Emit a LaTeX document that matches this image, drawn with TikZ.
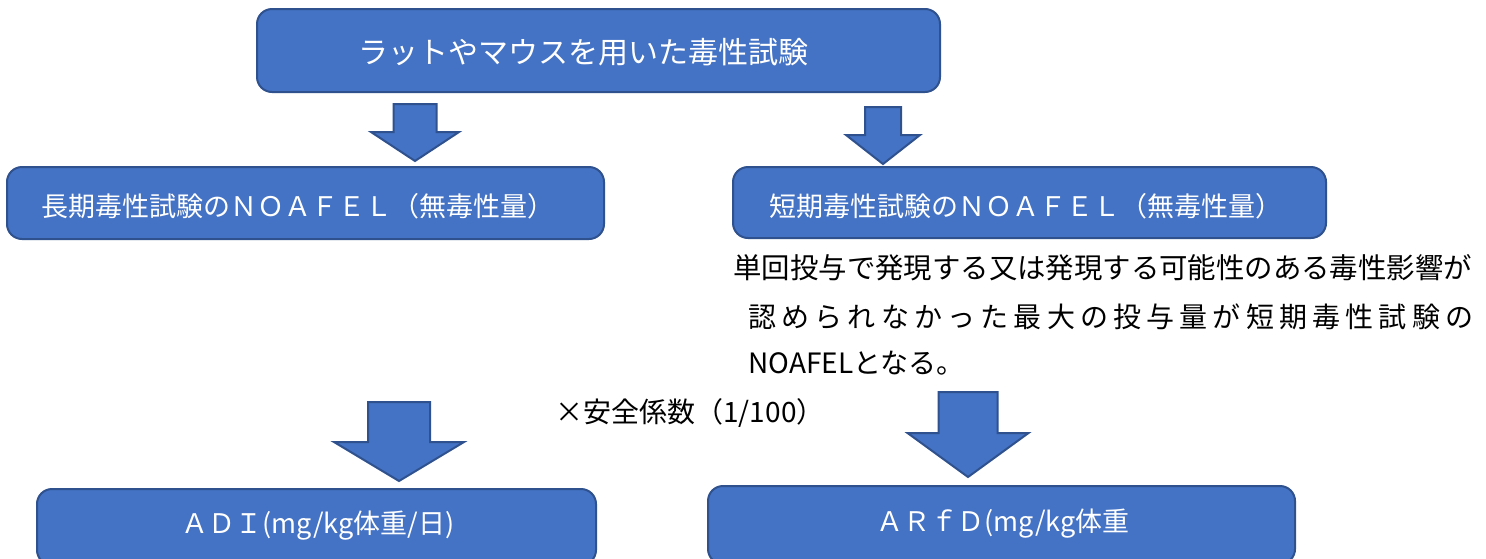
\documentclass[tikz,border=0pt]{standalone}
\usepackage{fontspec}
\setmainfont{Noto Sans CJK JP}
\definecolor{boxfill}{HTML}{4472C4}
\definecolor{boxline}{HTML}{2F528F}
\tikzset{
  bluebox/.style={draw=boxline, fill=boxfill, line width=1pt, rounded corners=7.5pt, inner sep=0pt},
  boxtext/.style={text=white, font=\fontsize{13.5pt}{16pt}\selectfont, inner sep=0pt},
  toptext/.style={text=white, font=\fontsize{15pt}{18pt}\selectfont, inner sep=0pt},
  plaintext/.style={text=black, font=\fontsize{14pt}{16pt}\selectfont, inner sep=0pt, anchor=west},
  blockarrow/.style={draw=boxline, fill=boxfill, line width=1pt, line join=miter}
}
\newcommand\blockarr[6]{%
  \draw[blockarrow] ({#1-#2},#3) -- ({#1+#2},#3) -- ({#1+#2},#4) -- ({#1+#5},#4)
    -- (#1,#6) -- ({#1-#5},#4) -- ({#1-#2},#4) -- cycle;}
\begin{document}
\begin{tikzpicture}[x=0.5pt,y=-0.5pt]
\clip (0,0) rectangle (1486,558);
\fill[white] (0,0) rectangle (1486,558);
% boxes
\node[bluebox, minimum width=341.5pt, minimum height=41.5pt] (top) at (598.5,50.5) {};
\node[toptext] (toptxt) at (583,52) {ラットやマウスを用いた毒性試験};
\node[bluebox, minimum width=298.5pt, minimum height=36pt] (long) at (305.5,203) {};
\node[boxtext] (longtxt) at (298,206) {長期毒性試験のＮＯＡＦＥＬ（無毒性量）};
\node[bluebox, minimum width=296.5pt, minimum height=35.5pt] (short) at (1029.5,202.5) {};
\node[boxtext] (shorttxt) at (1026,206) {短期毒性試験のＮＯＡＦＥＬ（無毒性量）};
\node[bluebox, minimum width=279.5pt, minimum height=38pt] (adi) at (316.5,527) {};
\node[boxtext] (aditxt) at (318,526) {ＡＤＩ(mg/kg体重/日)};
\node[bluebox, minimum width=293.5pt, minimum height=39pt] (arfd) at (1001.5,525) {};
\node[boxtext] (arfdtxt) at (1003,524) {ＡＲｆＤ(mg/kg体重};
% arrows
\blockarr{415}{21.5}{104}{132}{44}{161}
\blockarr{883}{18}{107}{135}{37}{164}
\blockarr{399}{31}{402}{442}{65}{481}
\blockarr{968}{29.5}{392}{433}{60.5}{477}
% texts
\node[plaintext, font=\fontsize{14.2pt}{16pt}\selectfont] (para1) at (733,268) {単回投与で発現する又は発現する可能性のある毒性影響が};
\node[plaintext, font=\fontsize{14pt}{16pt}\selectfont\addfontfeature{LetterSpace=18.5}] (para2) at (748,317) {認められなかった最大の投与量が短期毒性試験の};
\node[plaintext] (para3) at (748,363) {NOAFELとなる。};
\node[plaintext] (safety) at (555,413) {×安全係数（1/100）};
\end{tikzpicture}
\end{document}
